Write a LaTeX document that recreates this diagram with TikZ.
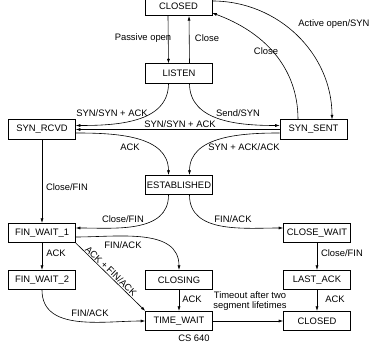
\documentclass[tikz,border=0pt]{standalone}
\usepackage{fontspec}
\setmainfont{Liberation Sans}
\usepackage{tikz}
\usetikzlibrary{arrows.meta}

\tikzset{
 tcpstate/.style={draw, line width=0.6pt, minimum width=67pt, minimum height=19.5pt, inner sep=0.5pt, font=\fontsize{9.4}{11}\selectfont},
 trans/.style={->, line width=0.6pt},
 lbl/.style={font=\fontsize{9.4}{10.5}\selectfont, inner sep=0.5pt}
}

\begin{document}
\begin{tikzpicture}[x=1pt,y=1pt,>={Latex[length=4.5pt,width=3pt]}]
\useasboundingbox (0,0) rectangle (370,347);

% states
\node[tcpstate] (closed1) at (178.5,341) {CLOSED};
\node[tcpstate] (listen) at (179,273.5) {LISTEN};
\node[tcpstate] (synrcvd) at (42,217.5) {SYN\_RCVD};
\node[tcpstate] (synsent) at (313.5,217.5) {SYN\_SENT};
\node[tcpstate] (established) at (179,162) {ESTABLISHED};
\node[tcpstate] (finwait1) at (42,114) {FIN\_WAIT\_1};
\node[tcpstate] (closewait) at (317,114) {CLOSE\_WAIT};
\node[tcpstate] (finwait2) at (42,67) {FIN\_WAIT\_2};
\node[tcpstate] (closing) at (179,67) {CLOSING};
\node[tcpstate] (lastack) at (317,67) {LAST\_ACK};
\node[tcpstate] (timewait) at (179,26) {TIME\_WAIT};
\node[tcpstate] (closed2) at (317,26) {CLOSED};

% opening
\draw[trans] ([xshift=-10.5pt]closed1.south) -- ([xshift=-10.5pt]listen.north);
\node[lbl] (l_passive) at (143,309) {Passive open};
\draw[trans] ([xshift=10.5pt]listen.north) -- ([xshift=10.5pt]closed1.south);
\node[lbl] (l_close1) at (207,309) {Close};

\draw[trans] ([yshift=5pt]closed1.east) to[out=0,in=90] ([xshift=18.5pt]synsent.north);
\node[lbl] (l_active) at (334,323) {Active open/SYN};
\draw[trans] ([xshift=-15.5pt]synsent.north) to[out=90,in=-20] ([yshift=-7pt]closed1.east);
\node[lbl] (l_close2) at (266,296) {Close};

\draw[trans] ([xshift=-10.5pt]listen.south) to[out=-90,in=0] ([yshift=4pt]synrcvd.east);
\node[lbl] (l_synack1) at (112,234) {SYN/SYN + ACK};
\draw[trans] ([xshift=10.5pt]listen.south) to[out=-90,in=180] ([yshift=4pt]synsent.west);
\node[lbl] (l_sendsyn) at (238,234) {Send/SYN};

\draw[trans] (synsent.west) -- (synrcvd.east);
\node[lbl] (l_synack2) at (180,223) {SYN/SYN + ACK};

\draw[trans] ([yshift=-3.5pt]synrcvd.east) to[out=0,in=90] ([xshift=-10.5pt]established.north);
\node[lbl] (l_ack1) at (130,200) {ACK};
\draw[trans] ([yshift=-3.5pt]synsent.west) to[out=180,in=90] ([xshift=10.5pt]established.north);
\node[lbl] (l_synackack) at (244,200) {SYN + ACK/ACK};

% closing
\draw[trans] (synrcvd.south) -- (finwait1.north);
\node[lbl] (l_closefin1) at (67,160) {Close/FIN};

\draw[trans] ([xshift=-10.5pt]established.south) to[out=-90,in=0] ([yshift=5pt]finwait1.east);
\node[lbl] (l_closefin2) at (123,128) {Close/FIN};
\draw[trans] ([xshift=10.5pt]established.south) to[out=-90,in=180] ([yshift=5pt]closewait.west);
\node[lbl] (l_finack1) at (233,128) {FIN/ACK};

\draw[trans] ([yshift=-4pt]finwait1.east) to[out=0,in=90] (closing.north);
\node[lbl] (l_finack2) at (123,102) {FIN/ACK};
\draw[trans] (finwait1.south east) -- (timewait.north west);
\node[lbl, rotate=-44] (l_ackfinack) at (111,76) {ACK + FIN/ACK};
\draw[trans] (finwait1.south) -- (finwait2.north);
\node[lbl] (l_ack2) at (56,94) {ACK};
\draw[trans] (finwait2.south) to[out=-90,in=180] (timewait.west);
\node[lbl] (l_finack3) at (90,34) {FIN/ACK};
\draw[trans] (closing.south) -- (timewait.north);
\node[lbl] (l_ack3) at (192,48) {ACK};

\draw[trans] (closewait.south) -- (lastack.north);
\node[lbl] (l_closefin3) at (342,94) {Close/FIN};
\draw[trans] (lastack.south) -- (closed2.north);
\node[lbl] (l_ack4) at (335,48) {ACK};

\draw[trans] (timewait.east) -- (closed2.west);
\node[lbl, align=center] (l_timeout) at (250,46) {Timeout after two\\segment lifetimes};

\node[lbl] (cs) at (194,9) {CS 640};
\end{tikzpicture}
\end{document}
